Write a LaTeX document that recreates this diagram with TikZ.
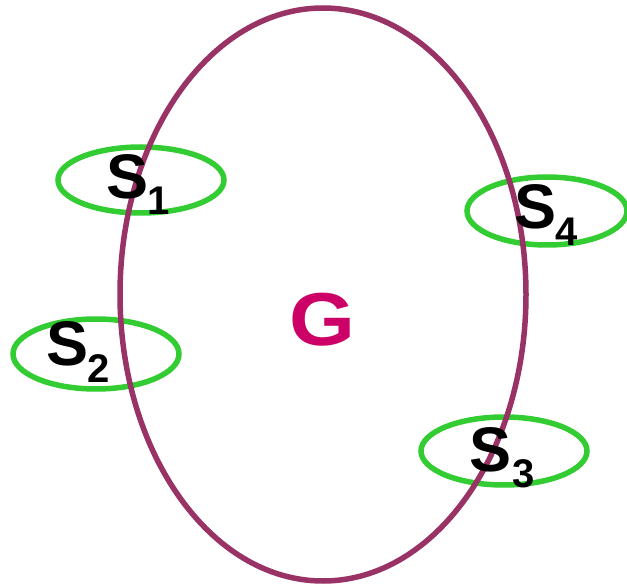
\documentclass[tikz,border=0pt]{standalone}
\usepackage{fontspec}
\setmainfont{Liberation Sans}
\definecolor{gpurple}{HTML}{993366}
\definecolor{sgreen}{HTML}{33CC33}
\definecolor{gmag}{HTML}{CC0066}
\tikzset{
  bigring/.style={draw=gpurple, line width=5.5pt},
  smallring/.style={draw=sgreen, line width=5.5pt},
  slab/.style={inner sep=0pt, anchor=base west, font=\fontsize{63}{63}\selectfont\bfseries},
  sublab/.style={inner sep=0pt, anchor=base west, font=\fontsize{40}{40}\selectfont\bfseries},
  glab/.style={inner sep=0pt, text=gmag, font=\fontsize{75}{75}\selectfont\bfseries}
}
\begin{document}
\begin{tikzpicture}[x=1pt,y=1pt]
\useasboundingbox (0,0) rectangle (627,-588);
% small rings
\draw[smallring] (141,-180) ellipse [x radius=83, y radius=33];
\draw[smallring] (547,-211) ellipse [x radius=80, y radius=34];
\draw[smallring] (96,-354) ellipse [x radius=83, y radius=35];
\draw[smallring] (504,-451) ellipse [x radius=83, y radius=34];
% big ring
\draw[bigring] (323,-294.5) ellipse [x radius=203, y radius=286.5];
% labels
\node[glab] (g) at (322.5,-319.5) {\scalebox{1.13}[1]{G}};
\node[slab] (s1) at (106,-199) {S};
\node[sublab] (n1) at (147,-215) {1};
\node[slab] (s4) at (514,-229) {S};
\node[sublab] (n4) at (555,-246) {4};
\node[slab] (s2) at (46,-366) {S};
\node[sublab] (n2) at (87,-382) {2};
\node[slab] (s3) at (469,-471) {S};
\node[sublab] (n3) at (512,-487) {3};
\end{tikzpicture}
\end{document}
